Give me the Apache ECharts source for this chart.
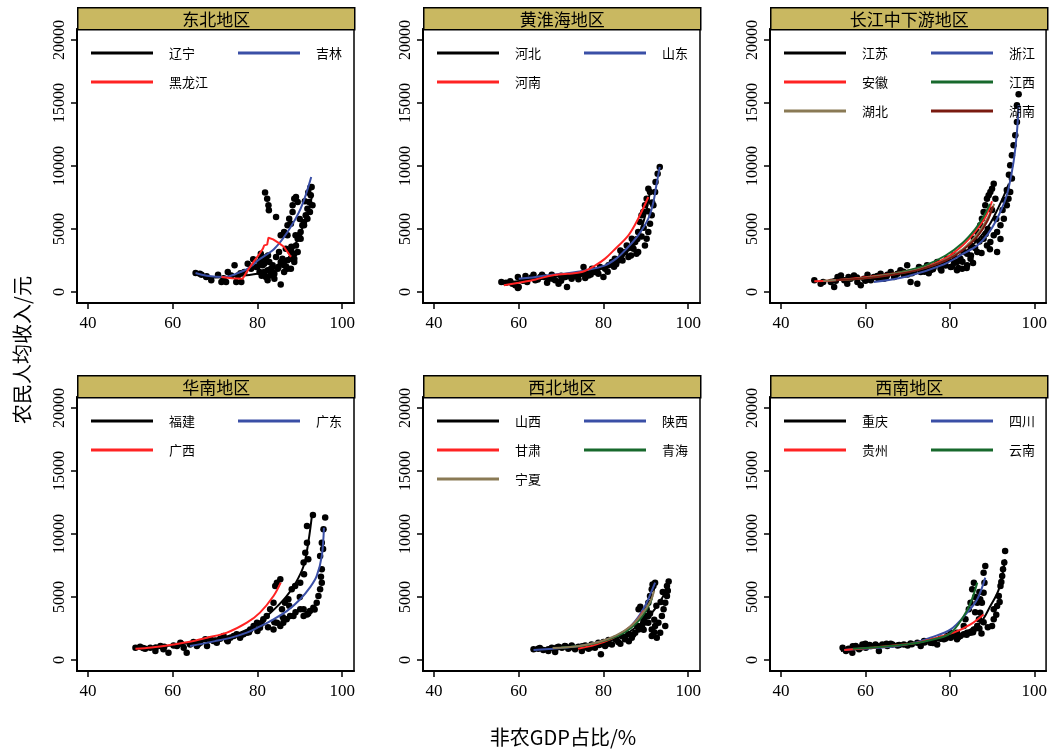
<!DOCTYPE html>
<html>
<head>
<meta charset="utf-8">
<title>非农GDP占比与农民人均收入</title>
<script src="https://cdn.jsdelivr.net/npm/echarts@6/dist/echarts.min.js"></script>
<style>
  html, body { margin: 0; padding: 0; background: #fff; }
  #main { width: 1050px; height: 751px; }
</style>
</head>
<body>
<div id="main"></div>
<script>
// 地区与省份
const regionNames = ["东北地区", "黄淮海地区", "长江中下游地区", "华南地区", "西北地区", "西南地区"];
const provinceNames = [
  ["辽宁", "吉林", "黑龙江"],
  ["河北", "山东", "河南"],
  ["江苏", "浙江", "安徽", "江西", "湖北", "湖南"],
  ["福建", "广东", "广西"],
  ["山西", "陕西", "甘肃", "青海", "宁夏"],
  ["重庆", "四川", "贵州", "云南"]
];
const xTicks = [40, 60, 80, 100];
const yTicks = [0, 5000, 10000, 15000, 20000];

// 观测点 [非农GDP占比, 农民人均收入]
const pointsNE = [
  [65.4,1510],[66.4,1460],[66.8,1380],[67.9,1190],[69.1,930],[70.7,1380],[71.5,790],[72.6,790],
  [73.0,1590],[73.8,1320],[74.6,2120],[75.0,790],[75.4,1320],[76.2,790],[76.9,1590],[77.7,2250],
  [78.5,1850],[79.7,1980],[80.5,1590],[80.8,2650],[81.2,2120],[81.6,1590],[82.0,1190],[82.4,930],
  [82.8,2380],[83.2,1850],[84.0,1460],[84.8,1850],[85.5,2380],[85.5,600],[86.3,1590],[86.3,2120],
  [87.1,2520],[87.1,1850],[87.9,2650],[87.9,3180],[88.7,2650],[88.7,3040],[89.1,3700],[89.5,4230],
  [89.8,4500],[90.2,4760],[90.6,5290],[91.0,5560],[91.4,6090],[91.8,6610],[92.2,7140],[92.6,7670],
  [93.0,6880],[92.8,8330],[92.4,6350],[91.8,5820],[91.0,5290],[90.2,4230],[89.5,3180],[88.7,2380],
  [87.9,1850],[81.8,7890],[82.3,7410],[82.6,6880],[82.7,6480],[84.4,5950],[85.5,4500],[86.3,4760],
  [87.1,5290],[87.5,5820],[88.3,6350],[88.7,7410],[89.1,7540],[89.5,7140],[88.3,6880],[87.9,5420],
  [87.1,4500],[80.5,2380],[80.8,3040],[81.2,2780],[81.6,2250],[82.0,2650],[82.4,1720],[83.0,1320],
  [83.6,2120],[84.4,2780],[85.1,3180],[85.9,2650],[86.7,3440],[84.0,1060],
  [79.0,2600],[80.0,2000],[81.0,1300],[82.5,2900],[83.5,1600],[85.0,2000],[86.0,2400],[86.8,2000],
  [88.0,3600],[89.0,4500],[90.0,5800],[91.2,7200],[92.0,7900],[92.5,8300],[76.0,1500],[72.0,1100],
  [68.0,1250]
];
const pointsHHH = [
  [55.9,790],[57.0,740],[58.0,850],[59.2,530],[59.8,320],[60.0,400],[59.8,1190],[61.6,1270],
  [62.0,790],[63.5,1380],[63.9,930],[65.1,1190],[65.5,1380],[66.7,740],[67.1,1060],[67.8,1380],
  [68.6,930],[69.4,660],[70.2,1110],[71.0,1190],[71.4,400],[72.5,1060],[73.3,1270],[74.1,1010],
  [74.9,1460],[75.3,1980],[75.7,1110],[76.5,1320],[77.3,1850],[78.0,1590],[78.8,1460],[79.2,1980],
  [80.0,1190],[80.4,1850],[81.2,2120],[82.0,2380],[82.7,2650],[83.5,2510],[84.3,2910],[85.1,3180],
  [85.5,3700],[85.9,2780],[86.7,4230],[87.1,3440],[87.5,3970],[87.8,3040],[88.2,4760],[88.6,5560],
  [89.0,6090],[89.4,6350],[89.8,6880],[90.2,7410],[90.6,8200],[91.0,7940],[89.8,3700],[90.2,4230],
  [90.6,4760],[91.0,5420],[91.4,6090],[91.8,6880],[92.2,7940],[92.3,8730],[92.8,9390],[93.3,9920],
  [88.2,3180],[84.0,3300],[86.0,3500],[82.5,2000],[77.0,1400],[70.0,900],[64.5,1000],
  [58.5,650],[61.0,900],[63.0,1150],[66.0,1200],[68.0,1050],[70.0,1300],[72.0,1250],[74.0,1300],
  [76.0,1500],[78.5,1700],[81.0,1600],[83.0,2200],[84.5,2500],[86.5,2900],[87.0,3900],[88.0,4200],
  [89.0,4400],[89.5,5100],[90.5,6400],[91.5,7100]
];
const pointsYZ = [
  [47.9,930],[49.4,660],[51.8,790],[52.6,400],[53.4,1190],[54.2,1320],[55.0,930],[55.7,660],
  [56.5,1060],[57.3,1320],[58.1,790],[58.9,530],[59.7,1060],[60.5,1380],[61.3,930],[62.0,1190],
  [62.8,1270],[63.6,1460],[64.4,1060],[65.2,1380],[66.0,1590],[66.8,1190],[67.6,1460],[68.3,1720],
  [69.1,1380],[69.9,2120],[70.7,790],[71.5,1590],[72.3,660],[72.7,1980],[73.1,1590],[73.9,1850],
  [74.6,2120],[75.4,1720],[76.2,1980],[77.0,2380],[77.8,1850],[78.6,2250],[79.4,2650],[80.2,1980],
  [80.9,2910],[81.7,2380],[82.5,2650],[82.9,1850],[83.3,3180],[84.1,3040],[84.9,3700],[85.7,4230],
  [86.5,4760],[87.2,5290],[87.6,5820],[88.0,6350],[88.4,6880],[88.8,7410],[89.2,7670],[89.6,7940],
  [90.0,8200],[90.4,8600],[90.8,7410],[88.0,4230],[88.8,3700],[89.6,3970],[90.4,4500],[91.2,4760],
  [92.0,5290],[92.8,5820],[93.5,6880],[93.9,7410],[94.3,7940],[94.7,9000],[94.3,10050],[94.7,10850],
  [95.1,11640],[95.5,12440],[95.9,13490],[96.3,15690],[95.9,14820],[84.9,2650],[86.5,3180],[84.1,2120],
  [81.7,1720],[91.2,3180],[60.0,900],[64.0,1200],[70.0,1400],[75.0,1500],[78.0,1700],[80.5,2000],
  [50.0,800],[53.0,900],[56.0,1200],[58.0,1150],[61.0,1000],[63.0,1100],[65.0,1250],[67.0,1300],
  [69.0,1600],[71.0,1500],[74.0,1600],[76.0,1800],[79.0,2100],[81.0,2300],[83.0,2400],[85.0,2900],
  [86.0,3500],[87.0,4000],[88.5,4600],[89.0,5000],[90.0,6500],[91.0,5800],[92.5,6500],[93.0,7300],
  [93.5,8100],[94.0,9300],[92.0,4200],[89.5,3400],[87.5,3100],[85.5,2300],[84.0,1900],[82.0,1900]
];
const pointsHN = [
  [51.2,980],[52.3,1060],[53.5,900],[54.7,980],[55.9,710],[57.1,1110],[57.8,850],[59.0,580],
  [60.2,1160],[61.0,1110],[61.8,1380],[62.6,980],[63.3,580],[64.1,1240],[64.9,1430],[65.7,1110],
  [66.5,1380],[67.7,1640],[68.1,1110],[68.9,1640],[69.6,1510],[70.4,1380],[71.2,1690],[72.0,1910],
  [72.8,1590],[73.6,1770],[74.4,1910],[75.1,2040],[75.9,1770],[76.7,2040],[77.5,2170],[78.3,2430],
  [79.1,2700],[79.9,2960],[80.6,2570],[81.4,3230],[82.2,3490],[83.0,4020],[83.8,4550],[84.2,5870],
  [84.6,6140],[85.4,6400],[83.8,2430],[84.6,2960],[85.4,2700],[86.1,2960],[86.9,3230],[87.7,3490],
  [88.5,3490],[90.1,4020],[90.9,3490],[91.7,3620],[92.4,3890],[93.2,4150],[94.0,4550],[94.4,5080],
  [94.8,5610],[95.2,6140],[95.2,7200],[94.8,8260],[95.2,9310],[95.6,10370],[96.0,11300],[90.9,4020],
  [90.1,6140],[90.9,7730],[91.3,8520],[91.7,9310],[91.7,10640],[93.1,11510],[88.9,5870],[88.1,5610],
  [87.3,4820],[86.5,4550],[85.8,4020],
  [53.0,950],[56.0,1000],[58.0,1050],[62.0,1300],[66.0,1250],[70.0,1550],[73.0,1500],[76.0,1900],
  [78.0,2200],[80.0,2300],[81.0,2900],[82.5,2600],[84.0,3000],[86.0,3400],[87.5,4300],[89.0,3800],
  [92.0,3700],[93.5,4000],[95.0,6600],[95.5,8800],[90.0,5000],[91.0,6800],[92.0,8000]
];
const pointsXB = [
  [63.5,850],[64.6,900],[65.8,790],[67.0,710],[67.8,980],[68.6,640],[69.4,1060],[70.2,980],
  [70.9,1110],[71.7,900],[72.5,1160],[73.3,850],[74.1,1060],[74.9,710],[75.7,1160],[76.5,900],
  [77.2,1240],[78.0,980],[78.8,1380],[79.4,450],[80.0,1430],[80.4,1110],[81.2,1590],[82.0,1240],
  [82.8,1690],[83.5,1430],[84.3,1910],[85.1,1640],[85.9,2040],[86.7,1770],[87.5,2170],[88.3,2430],
  [89.1,2700],[89.4,2960],[89.8,3490],[90.2,4020],[90.6,4550],[91.0,5080],[91.4,5610],[91.8,5870],
  [92.2,6140],[90.6,2960],[91.4,2430],[92.2,2700],[93.0,2960],[93.8,3490],[94.2,4020],[94.6,4550],
  [95.0,5080],[95.0,5870],[95.4,6240],[94.6,2700],[93.4,2170],[92.6,1770],[91.4,1910],[88.7,4230],
  [88.3,4020],[89.1,3360],[90.6,3490],[86.0,1500],[84.0,1300],[76.0,1000],[72.0,1000],
  [65.0,950],[67.0,850],[69.0,1000],[71.0,1100],[73.0,1000],[75.0,1100],[77.0,1000],[79.0,1200],
  [81.0,1300],[83.0,1600],[85.0,1800],[87.0,2000],[88.0,2700],[89.5,2400],[90.0,3000],[91.0,3700],
  [92.0,3200],[92.5,4300],[93.5,4600],[94.0,5400],[95.2,5500],[91.6,6000],[92.0,2200]
];
const pointsXN = [
  [54.6,980],[55.4,710],[56.1,850],[56.9,580],[57.7,1110],[58.5,850],[59.3,1240],[60.1,980],
  [61.3,1110],[62.4,1240],[63.2,710],[64.0,1240],[65.2,1110],[66.4,1240],[67.6,1160],[69.1,1240],
  [70.7,1320],[72.3,1380],[73.1,1110],[73.9,1510],[75.4,1380],[76.2,1510],[77.0,1240],[77.8,1690],
  [78.6,1640],[79.4,1910],[80.2,1770],[80.9,1910],[81.7,1640],[82.5,1910],[83.3,2040],[84.1,2170],
  [84.9,2170],[85.7,2430],[86.5,2700],[86.9,3230],[87.2,3760],[87.6,4550],[88.0,5340],[88.2,6140],
  [88.0,6930],[88.4,7460],[84.9,4550],[85.3,5610],[85.7,6140],[84.5,4020],[83.7,3230],[86.5,4550],
  [87.2,4820],[90.4,3230],[90.0,2700],[90.4,4020],[91.2,4290],[91.6,5080],[92.0,5870],[92.4,6670],
  [92.6,7200],[92.9,7730],[93.1,8650],[83.3,2700],[81.7,2170],[80.2,2170],[70.0,1150],[66.0,1300],
  [60.0,1300],[58.0,1000],
  [56.0,900],[57.0,1100],[59.0,1000],[61.0,1200],[63.0,1100],[65.0,1300],[68.0,1200],[71.0,1250],
  [74.0,1400],[76.0,1350],[79.0,1700],[82.0,1800],[84.0,2000],[85.5,2200],[87.0,2500],[88.0,3000],
  [86.0,3800],[86.0,5000],[87.0,5400],[91.0,3600],[91.8,4600],[92.2,6200],[89.0,2600],[87.5,2100]
];

// 各省拟合曲线
const curvesNE = [
  [[66.0,1400],[70,1150],[75,1250],[80,1450],[83,1750],[85.5,2150],[87.5,2800],[89,3800],[90.5,5000],[91.8,6300],[93.0,7700]],
  [[65.4,1510],[68,1300],[72.2,1190],[75,1450],[77.7,1850],[80.5,2600],[84,3440],[87.1,4760],[90.2,6610],[92.7,9130]],
  [[71.5,1190],[74,1100],[76.5,1060],[77.7,1720],[79,2350],[80.5,3040],[81.3,3440],[81.6,3700],[82.3,3760],[82.6,4310],[83.7,4180],[85,3900],[86.3,3570],[87.9,2780]]
];
const curvesHHH = [
  [[56.0,700],[62,950],[68,1200],[74,1450],[78,1750],[82,2250],[85,3000],[87.5,4000],[89.2,5300],[90.3,6700],[91.0,8000]],
  [[60.0,1060],[64,1200],[67.8,1380],[71.5,1500],[75.7,1720],[80.4,2120],[83,2650],[85.1,3310],[88.2,4500],[90.6,5820],[91.8,7140],[92.5,8470],[93.3,9920]],
  [[56.5,530],[60,740],[64,1000],[67.8,1320],[71.5,1450],[74.9,1590],[78,2100],[80.4,2650],[83,3500],[85.9,4500],[88.2,5820],[90.6,7540]]
];
const curvesYZ = [
  [[52,1000],[60,1150],[68,1450],[75,1900],[80,2500],[84,3300],[87,4300],[89.5,5400],[91.5,6700],[93,7800],[94.0,8600]],
  [[62,790],[70,1250],[78.6,2200],[83,3000],[86.5,3700],[89,4600],[91.2,5820],[93.0,7200],[93.9,8200],[95.1,10320],[95.9,12700],[96.3,14820]],
  [[47.9,850],[55,1000],[62,1250],[68,1550],[74,2000],[79,2700],[83,3700],[86,4800],[88.5,6000],[90,7200]],
  [[55,950],[62,1200],[68,1550],[74,2100],[79,2900],[83,3900],[86,5000],[88,6000],[89.5,7000]],
  [[50,900],[58,1050],[65,1350],[72,1750],[78,2400],[83,3400],[86.5,4600],[89,5900],[90.5,7000]],
  [[53,950],[60,1100],[67,1400],[73,1800],[79,2500],[83,3300],[86.5,4400],[89,5700],[90.2,6800]]
];
const curvesHN = [
  [[55,1000],[62,1250],[68,1550],[72,1800],[75.9,2170],[79,2700],[82.2,3490],[84.5,4200],[86.9,5080],[89,6100],[90.9,7460],[92.0,9310],[92.9,11560]],
  [[64.1,1110],[70,1500],[74,1800],[77.5,2170],[80.5,2650],[83.8,3230],[87,3900],[90.1,4820],[92.5,5800],[94.0,6670],[95.2,8260],[95.7,10500]],
  [[51.2,900],[55,1000],[60.2,1240],[64,1450],[68.1,1770],[72.8,2170],[77.5,2960],[80.6,3760],[83.8,5080],[85.5,6140]]
];
const curvesXB = [
  [[64,900],[70,1000],[76,1150],[81,1500],[85,2000],[88,2700],[90.5,3400],[92.5,4200],[94,5000],[95,5900]],
  [[63.5,790],[68,900],[73,1050],[78,1350],[82,1750],[85.5,2400],[88,3300],[90,4400],[91.3,5400],[92.2,6140]],
  [[74,900],[78,1200],[82,1700],[85,2300],[87.5,3000],[89.5,3900]],
  [[70,1000],[76,1200],[81,1600],[85,2200],[88,3000],[90,3900],[91.5,4900]],
  [[68,950],[74,1100],[79,1450],[83,1950],[86.5,2700],[89,3600],[91,4600],[92,5500]]
];
const curvesXN = [
  [[54.2,710],[60,950],[66,1150],[72,1350],[78,1650],[83.3,2170],[87.2,2960],[89.6,4290],[91.6,5610],[93.1,7990]],
  [[55,800],[62,950],[67.6,1110],[72,1400],[75.4,1770],[80.2,2430],[84.1,3760],[86.5,4820],[88.4,6540]],
  [[55,790],[62,1000],[68,1200],[72,1350],[75.4,1640],[80.9,2170],[84.9,2830],[88.0,3620]],
  [[57,900],[64,1050],[70,1250],[75,1550],[80,2100],[83.3,3490],[85,4600],[86.5,6140]]
];

const allPoints = [pointsNE, pointsHHH, pointsYZ, pointsHN, pointsXB, pointsXN];
const allCurves = [curvesNE, curvesHHH, curvesYZ, curvesHN, curvesXB, curvesXN];

// 线条颜色（按省份次序）
const lineColors = ["#000000", "#3a4fa6", "#ff2323", "#17692c", "#8a7a55", "#7a1a10"];

const colLeft = [77, 423, 770];
const rowTop = [29, 397];
const panelW = 277;
const panelH = 274;
const stripH = 22;

const grids = [], xAxes = [], yAxes = [], series = [], legends = [], graphics = [];

for (let p = 0; p < 6; p++) {
  const left = colLeft[p % 3];
  const top = rowTop[Math.floor(p / 3)];
  grids.push({
    left: left, top: top, width: panelW, height: panelH,
    show: true, borderColor: "#000", borderWidth: 1.5, backgroundColor: "#fff"
  });
  xAxes.push({
    gridIndex: p, type: "value", min: 37.4, max: 102.8,
    axisLine: { show: true, onZero: false, lineStyle: { color: "#000", width: 2 } },
    axisTick: { show: true, length: 6, customValues: xTicks, lineStyle: { color: "#000", width: 1.5 } },
    axisLabel: { customValues: xTicks, margin: 12, color: "#000", fontSize: 17, fontFamily: "Liberation Serif" },
    splitLine: { show: false }
  });
  yAxes.push({
    gridIndex: p, type: "value", min: -870, max: 20870,
    axisLine: { show: true, onZero: false, lineStyle: { color: "#000", width: 2 } },
    axisTick: { show: true, length: 6, customValues: yTicks, lineStyle: { color: "#000", width: 1.5 } },
    axisLabel: {
      customValues: yTicks, rotate: 90, margin: 9, color: "#000", fontSize: 16, fontFamily: "Liberation Serif",
      formatter: function (v) { return String(v); }
    },
    splitLine: { show: false }
  });

  series.push({
    type: "scatter", xAxisIndex: p, yAxisIndex: p,
    data: allPoints[p], symbolSize: 6.5,
    itemStyle: { color: "#000", opacity: 1 }, z: 2
  });
  allCurves[p].forEach(function (c, i) {
    series.push({
      type: "line", name: provinceNames[p][i], xAxisIndex: p, yAxisIndex: p,
      data: c, showSymbol: false, symbol: "none",
      smooth: provinceNames[p][i] === "黑龙江" ? false : 0.35,
      lineStyle: { color: lineColors[i], width: 2 },
      itemStyle: { color: lineColors[i] }, z: 3
    });
  });

  legends.push({
    data: provinceNames[p], left: left + 14, top: top + 17, width: 285,
    orient: "horizontal", padding: 0, itemGap: 15,
    itemWidth: 62, itemHeight: 3, icon: "rect", selectedMode: false,
    textStyle: { fontSize: 13, fontFamily: "Noto Sans CJK SC", color: "#000", width: 54, padding: [0, 0, 0, 11], lineHeight: 14 }
  });

  graphics.push({
    type: "group", left: left, top: top - stripH,
    children: [
      { type: "rect", shape: { x: 0, y: 0, width: panelW, height: stripH },
        style: { fill: "#c9b861", stroke: "#000", lineWidth: 1.5 } },
      { type: "text", x: panelW / 2, y: stripH / 2 + 1,
        style: { text: regionNames[p], fill: "#000", font: "17px 'Noto Sans CJK SC'", align: "center", verticalAlign: "middle" } }
    ]
  });
}

graphics.push({
  type: "text", x: 22, y: 350, rotation: Math.PI / 2,
  style: { text: "农民人均收入/元", fill: "#000", font: "20px 'Noto Sans CJK SC'", align: "center", verticalAlign: "middle" }
});
graphics.push({
  type: "text", x: 563, y: 737,
  style: { text: "非农GDP占比/%", fill: "#000", font: "20px 'Noto Sans CJK SC'", align: "center", verticalAlign: "middle" }
});

const chart = echarts.init(document.getElementById("main"), null, { renderer: "canvas" });
chart.setOption({
  animation: false,
  backgroundColor: "#fff",
  grid: grids,
  xAxis: xAxes,
  yAxis: yAxes,
  legend: legends,
  series: series,
  graphic: graphics
});
</script>
</body>
</html>
